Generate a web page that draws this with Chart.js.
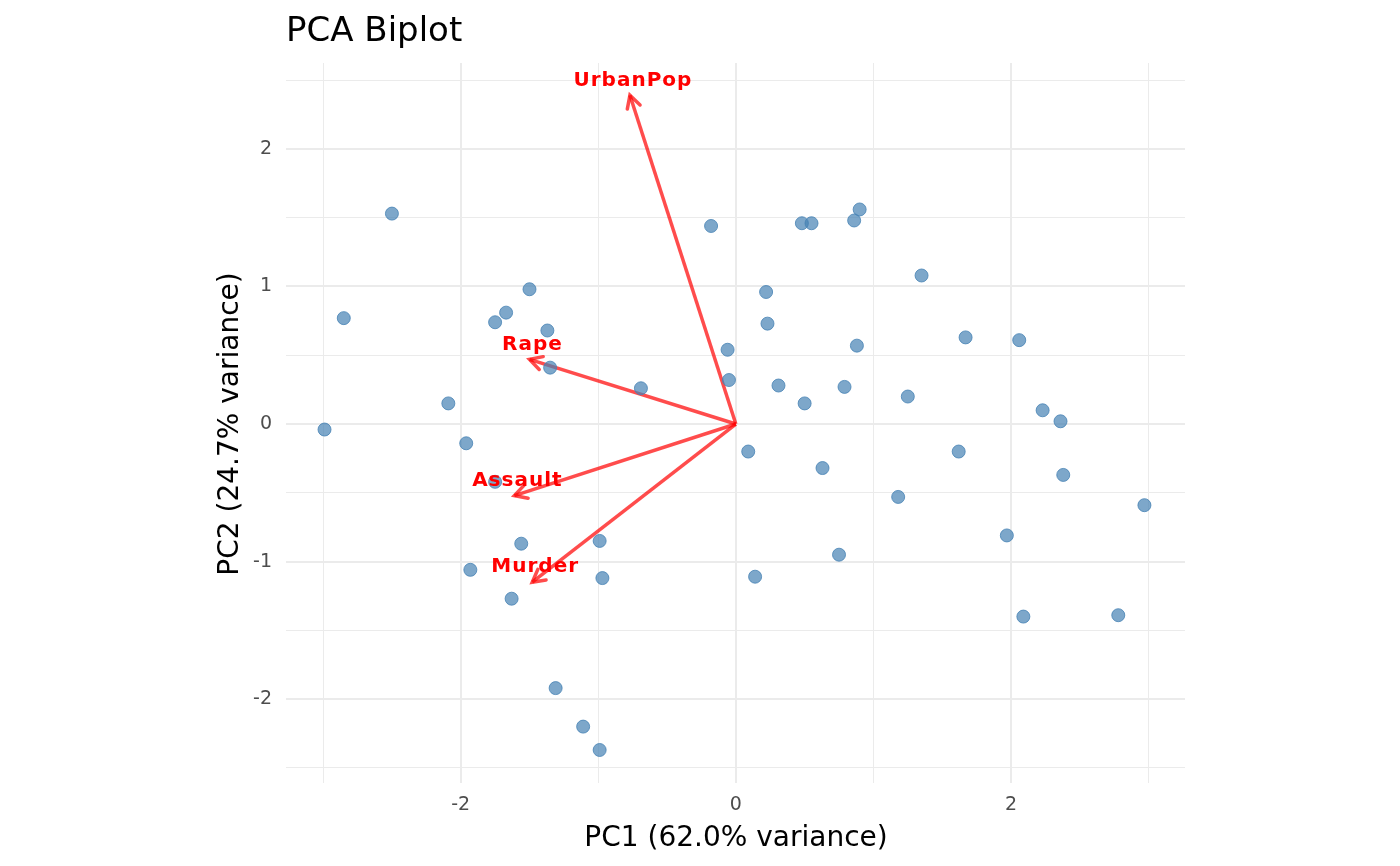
<!DOCTYPE html>
<html><head><meta charset="utf-8">
<script src="https://cdn.jsdelivr.net/npm/chart.js@4/dist/chart.umd.min.js"></script>
<style>body{margin:0;background:#fff}</style></head>
<body><canvas id="c" width="1400" height="866"></canvas>
<script>
const pc1 = [-2.50,-2.85,-2.99,-2.09,-1.96,-1.75,-1.67,-1.50,-1.37,-1.35,-1.75,-1.56,-1.93,-1.63,-1.31,-1.11,-0.99,-0.99,-0.97,-0.69,-0.18,-0.06,-0.05,0.09,0.14,0.22,0.23,0.31,0.48,0.55,0.50,0.63,0.75,0.79,0.86,0.90,0.88,1.25,1.18,1.35,1.62,1.67,1.97,2.06,2.09,2.23,2.36,2.38,2.78,2.97];
const pc2 = [1.53,0.77,-0.04,0.15,-0.14,0.74,0.81,0.98,0.68,0.41,-0.42,-0.87,-1.06,-1.27,-1.92,-2.20,-2.37,-0.85,-1.12,0.26,1.44,0.54,0.32,-0.20,-1.11,0.96,0.73,0.28,1.46,1.46,0.15,-0.32,-0.95,0.27,1.48,1.56,0.57,0.20,-0.53,1.08,-0.20,0.63,-0.81,0.61,-1.40,0.10,0.02,-0.37,-1.39,-0.59];
const loadNames = ['Murder','Assault','UrbanPop','Rape'];
const loadX = [-1.48,-1.61,-0.77,-1.50];
const loadY = [-1.15,-0.52,2.39,0.47];

const points = pc1.map((x,i)=>({x:x,y:pc2[i]}));
const arrowSets = loadNames.map((n,i)=>({
  type:'line', data:[{x:0,y:0},{x:loadX[i],y:loadY[i]}],
  borderColor:'rgba(255,0,0,0.7)', borderWidth:3.5, pointRadius:0, showLine:true
}));

const overlay = {
  id:'overlay',
  afterDatasetsDraw(chart){
    const c = chart.ctx, xs = chart.scales.x, ys = chart.scales.y;
    c.save();
    loadNames.forEach((n,i)=>{
      const x0 = xs.getPixelForValue(0), y0 = ys.getPixelForValue(0);
      const x1 = xs.getPixelForValue(loadX[i]), y1 = ys.getPixelForValue(loadY[i]);
      const a = Math.atan2(y1-y0, x1-x0), L = 14;
      c.strokeStyle='rgba(255,0,0,0.7)'; c.lineWidth=3.5; c.lineCap='round';
      c.beginPath();
      c.moveTo(x1-L*Math.cos(a-0.5), y1-L*Math.sin(a-0.5));
      c.lineTo(x1,y1);
      c.lineTo(x1-L*Math.cos(a+0.5), y1-L*Math.sin(a+0.5));
      c.stroke();
      c.fillStyle='#ff0000'; c.font='bold 20px "DejaVu Sans"';
      c.letterSpacing='1px';
      c.textAlign='center'; c.textBaseline='middle';
      c.fillText(n, x1+3, y1-15);
    });
    c.letterSpacing='0px';
    c.fillStyle='#000'; c.font='34px "DejaVu Sans"'; c.textAlign='left'; c.textBaseline='alphabetic';
    c.fillText('PCA Biplot', 286, 41);
    c.font='28px "DejaVu Sans"'; c.textAlign='center';
    c.fillText('PC1 (62.0% variance)', 736, 846);
    c.translate(238, 424); c.rotate(-Math.PI/2);
    c.fillText('PC2 (24.7% variance)', 0, 0);
    c.restore();
  }
};

new Chart(document.getElementById('c'), {
  data:{datasets:[{
    type:'scatter', data:points, pointRadius:6.5,
    backgroundColor:'rgba(70,130,180,0.7)', borderColor:'rgba(70,130,180,0.8)', borderWidth:1
  }, ...arrowSets]},
  options:{
    responsive:false, animation:false,
    layout:{padding:{top:63,right:215,left:0,bottom:0}},
    plugins:{legend:{display:false}, tooltip:{enabled:false}},
    scales:{
      x:{type:'linear', min:-3.27, max:3.265,
        afterBuildTicks(s){ s.ticks=[-3,-2,-1,0,1,2,3].map(v=>({value:v})); },
        afterFit(s){ s.height=83; },
        border:{display:false},
        grid:{color:'#ebebeb', lineWidth:c=>c.tick && c.tick.value%2===0?2:1, drawTicks:false},
        ticks:{padding:11, color:'#4d4d4d', font:{size:19, family:'DejaVu Sans'},
          callback:v=>v%2===0?String(v):''}
      },
      y:{type:'linear', min:-2.61, max:2.625,
        afterBuildTicks(s){ s.ticks=[-2.5,-2,-1.5,-1,-0.5,0,0.5,1,1.5,2,2.5].map(v=>({value:v})); },
        afterFit(s){ s.width=286; },
        border:{display:false},
        grid:{color:'#ebebeb', lineWidth:c=>c.tick && Number.isInteger(c.tick.value)?2:1, drawTicks:false},
        ticks:{padding:14, color:'#4d4d4d', font:{size:19, family:'DejaVu Sans'},
          callback:v=>Number.isInteger(v)?String(v):''}
      }
    }
  },
  plugins:[overlay]
});
</script></body></html>
